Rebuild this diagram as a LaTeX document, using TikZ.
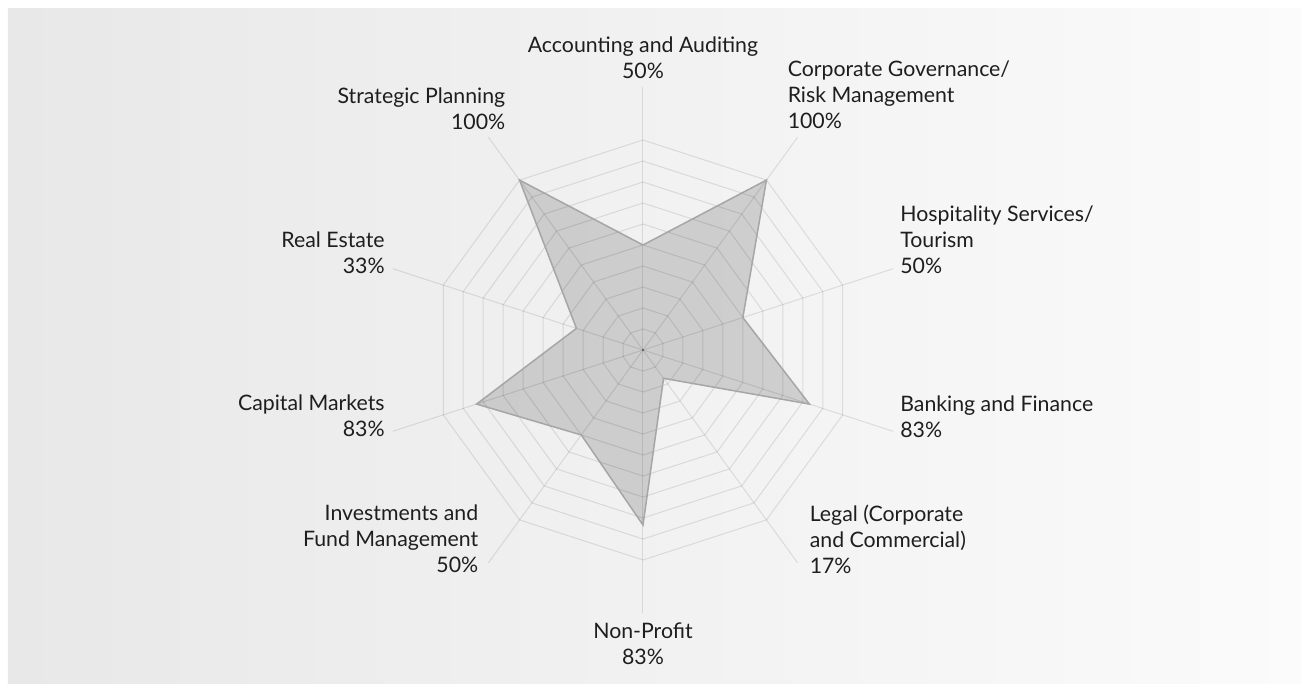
\documentclass[tikz,border=0pt]{standalone}
\usepackage{fontspec}
\setmainfont{Lato}
\usetikzlibrary{calc}
\definecolor{bgleft}{HTML}{E8E8E8}
\definecolor{bgright}{HTML}{FBFBFB}
\definecolor{labeltext}{HTML}{1E1E1E}
\definecolor{seriesline}{HTML}{A6A6A6}
\tikzset{
        % axis labels
        axislabel/.style={inner sep=0pt, text=labeltext, font=\fontsize{21.3}{26}\selectfont},
        % web lines and spokes
        webline/.style={draw=black, draw opacity=0.1, line width=1pt},
        % the data area
        seriesarea/.style={fill=black, fill opacity=0.15, draw=seriesline, draw opacity=1, line width=1.5pt, line join=miter}
}
\begin{document}
\begin{tikzpicture}[x=1pt, y=1pt]
    \useasboundingbox (-643,-333) rectangle (658,350);
    \shade[left color=bgleft, right color=bgright] (-635,-333) rectangle (658,341);
    % spoke ends
    \foreach \i in {0,...,9}
        \coordinate (e\i) at ({90-36*\i}:263);
    % web
    \foreach \k in {1,...,10}
        \draw[webline] (90:{21*\k}) \foreach \i in {1,...,9}{ -- ({90-36*\i}:{21*\k}) } -- cycle;
    \foreach \i in {0,...,9}
        \draw[webline] (0,0) -- (e\i);
    % data
    \path[seriesarea] (90:105) -- (54:210) -- (18:105) -- (-18:175) -- (-54:35)
        -- (-90:175) -- (-126:105) -- (-162:175) -- (162:70) -- (126:210) -- cycle;
    \fill[black!65] (0,0) circle (1.2);
    % labels
    \node[axislabel, anchor=south, align=center] (acc) at ([shift={(0,8)}]e0) {Accounting and Auditing\\50\%};
    \node[axislabel, anchor=south west, align=left] (corp) at ([shift={(-10,8)}]e1) {Corporate Governance/\\Risk Management\\100\%};
    \node[axislabel, anchor=south west, align=left] (hosp) at ([shift={(7,-5)}]e2) {Hospitality Services/\\Tourism\\50\%};
    \node[axislabel, anchor=south west, align=left] (bank) at ([shift={(7,-7)}]e3) {Banking and Finance\\83\%};
    \node[axislabel, anchor=south west, align=left] (legal) at ([shift={(12,-11)}]e4) {Legal (Corporate\\and Commercial)\\17\%};
    \node[axislabel, anchor=north, align=center] (nonprofit) at ([shift={(0,-10)}]e5) {Non-Profit\\83\%};
    \node[axislabel, anchor=south east, align=right] (invest) at ([shift={(-10,-10)}]e6) {Investments and\\Fund Management\\50\%};
    \node[axislabel, anchor=south east, align=right] (capital) at ([shift={(-8,-6)}]e7) {Capital Markets\\83\%};
    \node[axislabel, anchor=south east, align=right] (realestate) at ([shift={(-8,-5)}]e8) {Real Estate\\33\%};
    \node[axislabel, anchor=south east, align=right] (strategic) at ([shift={(17,7)}]e9) {Strategic Planning\\100\%};
\end{tikzpicture}
\end{document}
